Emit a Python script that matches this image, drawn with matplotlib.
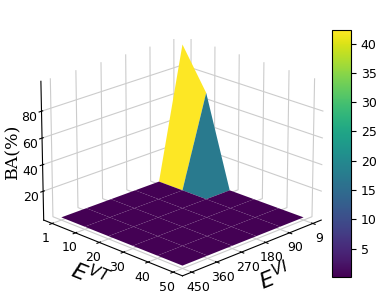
import numpy as np
import matplotlib
matplotlib.use('Agg')
import matplotlib.pyplot as plt

# axis tick labels
evt_labels = ['1', '10', '20', '30', '40', '50']
evi_labels = ['9', '90', '180', '270', '360', '450']

# BA(%) values, rows are EVT, columns are EVI
ba = np.array([
    [100.0, 0.15, 0.15, 0.15, 0.15, 0.15],
    [69.0, 0.15, 0.15, 0.15, 0.15, 0.15],
    [0.15, 0.15, 0.15, 0.15, 0.15, 0.15],
    [0.15, 0.15, 0.15, 0.15, 0.15, 0.15],
    [0.15, 0.15, 0.15, 0.15, 0.15, 0.15],
    [0.15, 0.15, 0.15, 0.15, 0.15, 0.15],
])

X, Y = np.meshgrid(np.arange(len(evi_labels)), np.arange(len(evt_labels)))

fig = plt.figure(figsize=(3.91, 3.08), dpi=100)
ax = fig.add_axes([0.016, -0.005, 0.88, 1.0], projection='3d')
surf = ax.plot_surface(X, Y, ba, cmap='viridis', rstride=1, cstride=1, linewidth=0)
ax.view_init(elev=21, azim=45)
ax.set_proj_type('persp', focal_length=1.6)

ax.set_xticks(np.arange(len(evi_labels)))
ax.set_xticklabels(evi_labels, fontsize=9)
ax.set_yticks(np.arange(len(evt_labels)))
ax.set_yticklabels(evt_labels, fontsize=9)
ax.set_zticks([20, 40, 60, 80])
ax.tick_params(axis='z', labelsize=9, pad=-3)
ax.tick_params(axis='x', pad=-3)
ax.tick_params(axis='y', pad=-3)

ax.set_xlabel(r'$E^{VI}$', fontsize=16, labelpad=-4)
ax.set_ylabel(r'$E^{VT}$', fontsize=16, labelpad=-4)
ax.zaxis.set_rotate_label(False)
ax.set_zlabel('BA(%)', fontsize=12.5, family='serif', rotation=90, labelpad=-9)

for axis in (ax.xaxis, ax.yaxis, ax.zaxis):
    axis.set_pane_color((1, 1, 1, 1))
    axis.pane.set_edgecolor('white')
    axis._axinfo['grid']['color'] = '#cccccc'

cax = fig.add_axes([332 / 391, 1 - 277 / 308, 19 / 391, 247 / 308])
cb = fig.colorbar(surf, cax=cax)
cb.set_ticks([5, 10, 15, 20, 25, 30, 35, 40])
cb.ax.tick_params(labelsize=9)

plt.savefig('out.png', dpi=100)
plt.close()
